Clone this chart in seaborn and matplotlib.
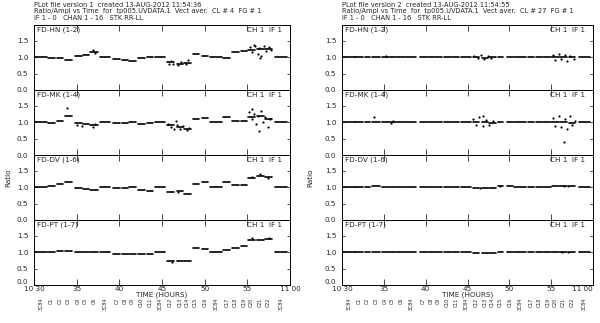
import matplotlib
matplotlib.use("Agg")
import matplotlib.pyplot as plt
import matplotlib.transforms as mtransforms
import seaborn as sns
import pandas as pd

# --- data: scan schedule (minutes after 10:30) ---
scan_start = [0.1, 1.6, 2.7, 3.6, 4.8, 5.7, 6.6, 7.7, 9.3, 10.3, 11.1, 12.2, 13.2, 14.2,
              15.6, 16.7, 17.6, 18.6, 19.7, 20.6, 22.2, 23.2, 24.2, 25.1, 26.1, 27.1, 28.3]
scan_end = [1.5, 2.5, 3.4, 4.5, 5.6, 6.4, 7.5, 8.9, 10.1, 11.0, 11.9, 13.0, 14.0, 15.4,
            16.4, 17.5, 18.4, 19.3, 20.4, 22.0, 23.0, 24.0, 25.0, 25.9, 26.9, 27.9, 29.7]
sources = ["3C84", "C1", "C2", "C3", "C4", "C5", "C6", "3C84", "C7", "C8", "C9", "C10", "C11",
           "3C84", "C12", "C13", "C14", "C15", "C16", "3C84", "C17", "C18", "C19", "C20",
           "C21", "C22", "3C84"]

baselines = ["FD-HN (1-2)", "FD-MK (1-4)", "FD-DV (1-6)", "FD-PT (1-7)"]

# scan ratios, version 1 (left)
v1_hn = [1.0, 0.98, 0.96, 0.90, 1.04, 1.08, 1.17, 1.0, 0.95, 0.92, 0.88, 0.98, 1.02, 1.0,
         0.85, 0.80, 0.83, 1.10, 1.03, 1.0, 0.98, 1.17, 1.19, 1.22, 1.25, 1.26, 1.0]
v1_mk = [1.0, 0.99, 1.05, 1.18, 0.96, 0.94, 0.92, 1.0, 0.96, 0.97, 1.0, 0.95, 0.98, 1.0,
         0.90, 0.85, 0.80, 1.10, 1.12, 1.0, 1.15, 1.04, 1.05, 1.15, 1.20, 1.10, 1.0]
v1_dv = [1.0, 1.05, 1.10, 1.17, 0.98, 0.95, 0.90, 1.0, 0.96, 0.98, 1.0, 0.92, 0.88, 1.0,
         0.86, 0.88, 0.80, 1.10, 1.15, 1.0, 1.17, 1.08, 1.06, 1.28, 1.35, 1.30, 1.0]
v1_pt = [1.0, 1.0, 1.03, 1.05, 1.0, 1.0, 1.0, 1.0, 0.93, 0.93, 0.93, 0.93, 0.93, 1.0,
         0.72, 0.72, 0.73, 1.12, 1.11, 1.0, 1.08, 1.13, 1.18, 1.37, 1.36, 1.40, 1.0]

# scan ratios, version 2 (right)
v2_hn = [1.0, 1.0, 1.0, 1.0, 1.02, 1.01, 1.02, 1.0, 1.0, 1.0, 1.0, 1.0, 1.0, 1.0,
         1.01, 0.99, 1.0, 1.0, 1.0, 1.0, 1.0, 1.0, 1.0, 1.02, 1.0, 1.0, 1.0]
v2_mk = [1.0, 1.0, 1.02, 1.02, 1.0, 1.02, 1.0, 1.0, 1.0, 1.0, 1.0, 1.0, 1.0, 1.0,
         1.02, 1.0, 0.98, 1.0, 1.0, 1.0, 1.0, 1.0, 1.0, 1.02, 1.0, 0.98, 1.0]
v2_dv = [1.0, 1.0, 1.02, 1.03, 1.01, 1.0, 1.0, 1.0, 1.0, 1.0, 1.0, 1.0, 1.0, 1.0,
         0.98, 0.97, 0.98, 1.04, 1.04, 1.0, 1.0, 1.01, 1.02, 1.03, 1.05, 1.04, 1.0]
v2_pt = [1.0, 1.0, 1.0, 1.01, 1.01, 1.0, 1.0, 1.0, 1.0, 1.0, 1.0, 1.0, 1.0, 1.0,
         0.99, 0.99, 0.99, 1.0, 1.0, 1.0, 1.0, 1.0, 1.0, 1.01, 1.02, 1.02, 1.0]

# scattered points (time, ratio)
v1_hn_pts = ([15.8, 16.1, 16.3, 16.9, 17.2, 17.8, 18.1, 25.3, 25.6, 25.9, 26.2, 26.4, 26.6,
              26.9, 27.2, 27.5, 27.8, 26.5, 25.8, 6.9, 7.2],
             [0.78, 0.88, 0.80, 0.76, 0.86, 0.79, 0.90, 1.30, 1.15, 1.33, 1.10, 1.28, 1.05,
              1.35, 1.18, 1.32, 1.22, 0.98, 1.38, 1.21, 1.14])
v1_mk_pts = ([3.9, 5.0, 5.6, 6.9, 7.2, 15.7, 16.0, 16.4, 16.8, 17.1, 17.5, 17.9, 18.2, 16.6,
              25.2, 25.5, 25.8, 26.0, 26.3, 26.6, 26.8, 27.1, 27.4, 27.7, 26.4, 25.6],
             [1.43, 0.90, 0.88, 0.86, 0.95, 0.95, 0.85, 0.78, 0.92, 0.80, 0.88, 0.75, 0.83, 1.05,
              1.30, 1.10, 1.25, 0.95, 1.20, 1.35, 1.00, 1.15, 0.85, 1.10, 0.72, 1.40])
v1_dv_pts = ([25.5, 26.5, 27.4, 16.9], [1.32, 1.40, 1.27, 0.84])
v1_pt_pts = ([25.6, 27.5, 16.2], [1.42, 1.44, 0.70])
v2_hn_pts = ([15.8, 16.2, 16.6, 17.0, 17.4, 17.8, 25.2, 25.5, 25.9, 26.2, 26.6, 26.9, 27.3, 27.7, 5.2],
             [1.05, 0.96, 1.08, 0.93, 1.04, 0.97, 1.06, 0.92, 1.10, 0.95, 1.08, 0.88, 1.03, 0.94, 1.04])
v2_mk_pts = ([3.8, 6.1, 5.9, 15.7, 16.0, 16.4, 16.8, 17.2, 17.6, 18.0, 16.9,
              25.2, 25.5, 25.9, 26.2, 26.5, 26.6, 26.9, 27.2, 27.5, 27.8],
             [1.15, 1.05, 0.97, 1.10, 0.90, 1.15, 0.88, 1.08, 0.92, 1.05, 1.18,
              1.12, 0.88, 1.18, 0.85, 0.40, 1.10, 0.80, 1.20, 0.90, 1.05])
v2_dv_pts = ([16.5, 18.9, 26.5, 27.0], [0.97, 1.04, 1.05, 1.03])
v2_pt_pts = ([26.3, 27.0], [1.02, 1.02])

panels = [
    {"header": ["PLot file version 1  created 13-AUG-2012 11:54:36",
                "Ratio/Ampl vs Time  for  tp005.UVDATA.1  Vect aver.  CL # 4  FG # 1",
                "IF 1 - 0   CHAN 1 - 16   STK RR-LL"],
     "scans": [v1_hn, v1_mk, v1_dv, v1_pt],
     "pts": [v1_hn_pts, v1_mk_pts, v1_dv_pts, v1_pt_pts]},
    {"header": ["PLot file version 2  created 13-AUG-2012 11:54:55",
                "Ratio/Ampl vs Time  for  tp005.UVDATA.1  Vect aver.  CL # 27  FG # 1",
                "IF 1 - 0   CHAN 1 - 16   STK RR-LL"],
     "scans": [v2_hn, v2_mk, v2_dv, v2_pt],
     "pts": [v2_hn_pts, v2_mk_pts, v2_dv_pts, v2_pt_pts]},
]

xticks = [0, 5, 10, 15, 20, 25, 30]
xticklabels = ["10 30", "35", "40", "45", "50", "55", "11 00"]
yticks = [0.0, 0.5, 1.0, 1.5]

# --- plotting ---
sns.set_style("white")
plt.rcParams['font.family'] = ['DejaVu Sans']
FS = 5.2
FS_HEAD = 4.8

W, H = 600, 323
fig = plt.figure(figsize=(W / 100, H / 100), dpi=100)

panel_left = [34, 342]
panel_width = [256, 251]
ratio_x = [8, 310]
top_px, sub_h = 25, 65

for p, panel in enumerate(panels):
    x0 = panel_left[p]
    for k, line in enumerate(panel["header"]):
        fig.text(x0 / W, 1 - (2 + 6.3 * k) / H, line, fontsize=FS_HEAD, va='top', ha='left')
    fig.text(ratio_x[p] / W, 1 - 178 / H, "Ratio", rotation=90, fontsize=FS,
             ha='center', va='center')

    for b, bl in enumerate(baselines):
        y_top = top_px + b * sub_h
        ax = fig.add_axes([x0 / W, 1 - (y_top + sub_h) / H, panel_width[p] / W, sub_h / H])

        rows = []
        for i, (s, e) in enumerate(zip(scan_start, scan_end)):
            v = panel["scans"][b][i]
            rows.append({"time": s, "ratio": v, "scan": i})
            rows.append({"time": e, "ratio": v, "scan": i})
        df = pd.DataFrame(rows)
        sns.lineplot(data=df, x="time", y="ratio", units="scan", estimator=None,
                     color="black", lw=1.2, ax=ax)
        pt_t, pt_r = panel["pts"][b]
        sns.scatterplot(x=pt_t, y=pt_r, color="black", s=2.5, linewidth=0, ax=ax)

        ax.set_xlim(0, 30)
        ax.set_ylim(0, 1.98)
        ax.set_xticks(xticks)
        ax.set_yticks(yticks)
        ylabels = ax.set_yticklabels(["%.1f" % t for t in yticks], fontsize=FS)
        ax.tick_params(axis='x', direction='in', top=True, bottom=True, length=4,
                       width=0.6, pad=0.8)
        ax.tick_params(axis='y', direction='in', left=True, right=True, length=2.5,
                       width=0.6, pad=4)
        for sp in ax.spines.values():
            sp.set_linewidth(0.7)
            sp.set_color("black")
        ax.set_xlabel("")
        ax.set_ylabel("")

        ax.text(0.01, 0.97, bl, transform=ax.transAxes, fontsize=FS, va='top', ha='left')
        ax.text(0.97, 0.97, "CH 1  IF 1", transform=ax.transAxes, fontsize=FS,
                va='top', ha='right')

        if b == len(baselines) - 1:
            ylabels[0].set_verticalalignment('bottom')
            labels = ax.set_xticklabels(xticklabels, fontsize=FS)
            if p == 1:
                labels[-1].set_horizontalalignment('right')
            ax.set_xlabel("TIME (HOURS)", fontsize=FS, labelpad=-0.5)
            trans = mtransforms.blended_transform_factory(ax.transData, ax.transAxes)
            for s, e, name in zip(scan_start, scan_end, sources):
                ax.text((s + e) / 2, -0.2, name, transform=trans, rotation=90,
                        fontsize=3.4, ha='center', va='top')
        else:
            ax.set_xticklabels([])

fig.savefig("out.png", dpi=100)
